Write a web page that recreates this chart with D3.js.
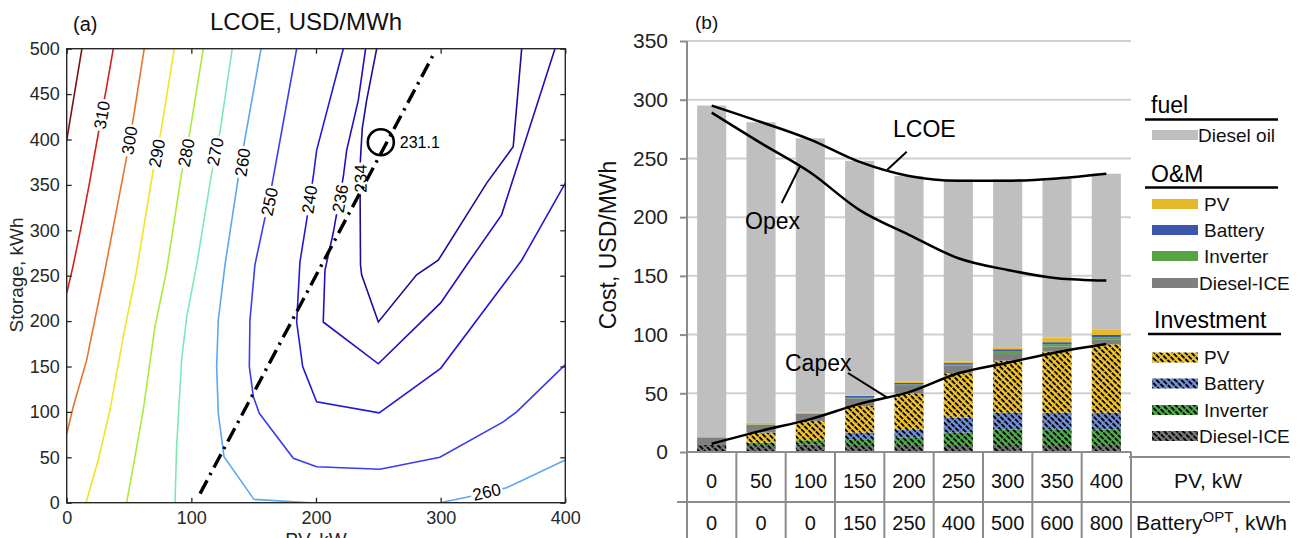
<!DOCTYPE html>
<html>
<head>
<meta charset="utf-8">
<script src="https://cdn.jsdelivr.net/npm/d3@7"></script>
<style>
  body { margin: 0; background: #fff; }
  svg { display: block; font-family: "Liberation Sans", Arial, Helvetica, sans-serif; }
</style>
</head>
<body>
<svg id="chart" width="1304" height="538"></svg>
<script>
// ---------- (a) contour lines, points as [PV kW, storage kWh] ----------
var c320 = [[12.2,500],[0,399]];
var c310 = [[37.4,500],[31,450],[24.5,400],[18,350],[11,300],[5,260],[0,231]];
var c300 = [[62.2,500],[53.4,423],[47.6,377],[30.7,256],[16,157],[5.3,106],[0,76]];
var c290 = [[86.3,500],[75.6,409],[69,363],[56.1,256],[45.4,183],[34.7,102],[25.3,47],[15.5,0]];
var c280 = [[109.6,500],[98.9,409],[92.2,363],[80.2,256],[70.8,194],[61.4,102],[53.4,40],[48.1,0]];
var c270 = [[132.8,500],[123,409],[116.3,363],[104.3,262],[96.3,205],[92.2,157],[88.2,62],[86.9,0]];
var c260 = [[155.9,500],[139,370],[127,262],[121.6,201],[120.3,150],[121.6,98.5],[126.2,50.7],[150.2,3.7],[195.2,0]];
var c260b = [[299.4,0],[320.8,6],[352.9,16.5],[400,47]];
var c250 = [[184.5,500],[164.4,348],[151,262],[147,201],[146.5,150],[149.7,117],[154.5,98.5],[181.8,49],
            [200.5,39.6],[251.3,36.8],[299.4,50],[350.2,89],[361,100],[400,152]];
var c240 = [[221.9,500],[200.5,388],[197.8,359],[192.5,311],[187.1,265],[184.5,199],[189.3,150],[200.5,111],
            [250.7,99],[300,148],[365,267],[400,352]];
var c236 = [[239.8,500],[233.9,443],[224.6,388],[221.9,359],[213.8,297],[207.2,256],[205.8,199],[250,153],
            [300,220],[323.5,267],[348.9,317],[391.7,500]];
var c234 = [[248.7,500],[240.6,443],[237.1,412],[235.6,377],[235.4,333],[235.7,262],[236.6,251],[250,199],
            [280.7,251],[298.1,267],[336.9,352],[358.2,392],[365,500]];

var contourLines = [c320, c310, c300, c290, c280, c270, c260, c260b, c250, c240, c236, c234];
var contourColors = ["#7d1212", "#d91e1e", "#e8742a", "#f2e424", "#a8ec3c", "#7ee8b4", "#5aa8f2", "#5aa8f2",
                     "#3a3cf0", "#2418d8", "#200fc0", "#1c0c9a"];

var labelText = ["310", "300", "290", "280", "270", "260", "250", "240", "236", "234", "260"];
var labelPV = [28.1, 50.2, 72.2, 95.7, 119, 140.9, 162.5, 194.6, 219.2, 235.6, 336.9];
var labelStorage = [427, 399, 385, 385.5, 386.6, 375, 331.5, 334, 335, 357, 12];
var labelLine = [c310, c300, c290, c280, c270, c260, c250, c240, c236, c234, c260b];

var optimalLine = [[107,10],[294,493]];
var optimum = [252, 397];
var optimumValue = "231.1";

// ---------- (b) stacked costs, USD/MWh ----------
var pvKW = ["0","50","100","150","200","250","300","350","400"];
var batteryOpt = ["0","0","0","150","250","400","500","600","800"];

var invDieselICE = [6, 6, 6.5, 6, 6, 6, 6, 6, 6];
var invInverter = [0, 2, 3.5, 4.3, 6.2, 10.5, 13.3, 13.3, 13.3];
var invBattery = [0, 0, 0, 6.2, 6.5, 12.8, 14.2, 14.2, 14.2];
var invPV = [0, 8.5, 16.5, 22.7, 31.2, 37.7, 44.3, 52, 58.2];
var omDieselICE = [6.5, 6.8, 6.2, 6.5, 7.1, 6.5, 5.7, 4.3, 4.3];
var omInverter = [0, 0.3, 0.3, 0.5, 0.5, 0.8, 2, 2, 1.7];
var omBattery = [0, 0, 0, 1.5, 1.3, 1.4, 2, 1.7, 2];
var omPV = [0, 1.2, 0.6, 0.3, 1.3, 1.4, 1.7, 4, 4.3];
var dieselOil = [282.5, 256, 233.5, 200, 175, 155, 143, 135.5, 133];

var lcoe = [295, 281, 266, 247, 235, 231, 231, 233, 237];
var opex = [289, 263, 238, 206, 185, 165, 155, 148, 146];
var capex = [7, 18, 28, 41, 51, 67, 76, 85, 92];

var costTicks = [0, 50, 100, 150, 200, 250, 300, 350];

var svg = d3.select("#chart");
var defs = svg.append("defs");

// ================= panel (a) =================
var xA = d3.scaleLinear().domain([0, 400]).range([66.7, 565.3]);
var yA = d3.scaleLinear().domain([0, 500]).range([502.7, 48.7]);

defs.append("clipPath").attr("id", "clipA")
  .append("rect").attr("x", xA(0)).attr("y", yA(500))
  .attr("width", xA(400) - xA(0)).attr("height", yA(0) - yA(500));

var contourLine = d3.line()
  .x(function(d){ return xA(d[0]); })
  .y(function(d){ return yA(d[1]); });

var gA = svg.append("g").attr("clip-path", "url(#clipA)");

contourLines.forEach(function(pts, i){
  gA.append("path")
    .attr("d", contourLine(pts))
    .attr("fill", "none")
    .attr("stroke", contourColors[i])
    .attr("stroke-width", 1.6);
});

// contour labels, rotated along the local line direction
labelText.forEach(function(t, i){
  var px = xA(labelPV[i]), py = yA(labelStorage[i]);
  var pts = labelLine[i], best = 0, bestD = Infinity;
  for (var k = 0; k < pts.length - 1; k++){
    var mx = (xA(pts[k][0]) + xA(pts[k+1][0])) / 2, my = (yA(pts[k][1]) + yA(pts[k+1][1])) / 2;
    var dd = (mx - px) * (mx - px) + (my - py) * (my - py);
    if (dd < bestD){ bestD = dd; best = k; }
  }
  var dx = xA(pts[best+1][0]) - xA(pts[best][0]);
  var dy = yA(pts[best+1][1]) - yA(pts[best][1]);
  var ang = Math.atan2(dy, dx) * 180 / Math.PI;
  if (ang >= 90) ang -= 180;
  if (ang < -90) ang += 180;
  var g = gA.append("g").attr("transform", "translate(" + px + "," + py + ") rotate(" + ang + ")");
  g.append("rect").attr("x", -16).attr("y", -9).attr("width", 32).attr("height", 18).attr("fill", "#fff");
  g.append("text").attr("text-anchor", "middle").attr("dy", "0.36em")
    .style("font-size", "17px").attr("fill", "#000").text(t);
});

gA.append("path")
  .attr("d", contourLine(optimalLine))
  .attr("fill", "none")
  .attr("stroke", "#000")
  .attr("stroke-width", 3.4)
  .attr("stroke-dasharray", "15,6,2.5,6");

gA.append("circle")
  .attr("cx", xA(optimum[0])).attr("cy", yA(optimum[1])).attr("r", 13)
  .attr("fill", "none").attr("stroke", "#000").attr("stroke-width", 2.6);

svg.append("text")
  .attr("x", xA(optimum[0]) + 19).attr("y", yA(optimum[1]) + 6)
  .style("font-size", "16px").text(optimumValue);

// axes, MATLAB style ticks pointing inward
var axL = svg.append("g").attr("transform", "translate(" + xA(0) + ",0)")
  .call(d3.axisLeft(yA).tickValues(d3.range(0, 501, 50)).tickSizeInner(-5).tickSizeOuter(0).tickPadding(7));
var axB = svg.append("g").attr("transform", "translate(0," + yA(0) + ")")
  .call(d3.axisBottom(xA).tickValues([0, 100, 200, 300, 400]).tickSizeInner(-5).tickSizeOuter(0).tickPadding(9));
var axR = svg.append("g").attr("transform", "translate(" + xA(400) + ",0)")
  .call(d3.axisRight(yA).tickValues(d3.range(0, 501, 50)).tickSizeInner(-5).tickSizeOuter(0).tickFormat(""));
var axT = svg.append("g").attr("transform", "translate(0," + yA(500) + ")")
  .call(d3.axisTop(xA).tickValues([0, 100, 200, 300, 400]).tickSizeInner(-5).tickSizeOuter(0).tickFormat(""));
[axL, axB, axR, axT].forEach(function(a){
  a.select(".domain").remove();
  a.selectAll("line").attr("stroke", "#262626").attr("stroke-width", 1.3);
  a.selectAll("text").attr("fill", "#262626").style("font-size", "18px").style("font-family", null);
});
svg.append("rect")
  .attr("x", xA(0)).attr("y", yA(500))
  .attr("width", xA(400) - xA(0)).attr("height", yA(0) - yA(500))
  .attr("fill", "none").attr("stroke", "#262626").attr("stroke-width", 1.4);

svg.append("text").attr("x", 306).attr("y", 30).attr("text-anchor", "middle")
  .style("font-size", "24px").attr("fill", "#111").text("LCOE, USD/MWh");
svg.append("text").attr("x", 73).attr("y", 31).style("font-size", "20px").attr("fill", "#111").text("(a)");
svg.append("text").attr("x", 316).attr("y", 546).attr("text-anchor", "middle")
  .style("font-size", "19px").attr("fill", "#262626").text("PV, kW");
svg.append("text").attr("transform", "translate(23,275) rotate(-90)").attr("text-anchor", "middle")
  .style("font-size", "19px").attr("fill", "#262626").text("Storage, kWh");

// ================= panel (b) =================
var xB = d3.scaleBand().domain(d3.range(pvKW.length)).range([687, 1131])
  .paddingInner(0.41).paddingOuter(0.205);
var yB = d3.scaleLinear().domain([0, 350]).range([452, 41]);

var colors = {
  dieselOil: "#bfbfbf",
  omPV: "#e6b82a", omBattery: "#3b57ad", omInverter: "#56a346", omDieselICE: "#7f7f7f",
  invPV: "#f2c531", invBattery: "#7391d8", invInverter: "#4fae4a", invDieselICE: "#7a7a7a"
};

// dashed downward-diagonal hatch
function hatch(id, color){
  var p = defs.append("pattern").attr("id", id).attr("patternUnits", "userSpaceOnUse")
    .attr("width", 6).attr("height", 4.4).attr("patternTransform", "rotate(45)");
  p.append("rect").attr("width", 6).attr("height", 4.4).attr("fill", color);
  p.append("rect").attr("width", 4.8).attr("height", 1.9).attr("fill", "#000");
}
hatch("hPV", colors.invPV);
hatch("hBattery", colors.invBattery);
hatch("hInverter", colors.invInverter);
hatch("hICE", colors.invDieselICE);

var keys = ["invDieselICE", "invInverter", "invBattery", "invPV",
            "omDieselICE", "omInverter", "omBattery", "omPV", "dieselOil"];
var fills = {
  invDieselICE: "url(#hICE)", invInverter: "url(#hInverter)", invBattery: "url(#hBattery)", invPV: "url(#hPV)",
  omDieselICE: colors.omDieselICE, omInverter: colors.omInverter, omBattery: colors.omBattery,
  omPV: colors.omPV, dieselOil: colors.dieselOil
};
var series = { invDieselICE: invDieselICE, invInverter: invInverter, invBattery: invBattery, invPV: invPV,
  omDieselICE: omDieselICE, omInverter: omInverter, omBattery: omBattery, omPV: omPV, dieselOil: dieselOil };

var rows = pvKW.map(function(d, i){
  var r = { i: i };
  keys.forEach(function(k){ r[k] = series[k][i]; });
  return r;
});

// gridlines
svg.append("g").selectAll("line").data(costTicks.slice(1)).enter().append("line")
  .attr("x1", 687).attr("x2", 1131)
  .attr("y1", function(d){ return yB(d); }).attr("y2", function(d){ return yB(d); })
  .attr("stroke", "#d0d0d0").attr("stroke-width", 2);

var stacked = d3.stack().keys(keys)(rows);
svg.append("g").selectAll("g").data(stacked).enter().append("g")
  .attr("fill", function(s){ return fills[s.key]; })
  .selectAll("rect").data(function(s){ return s; }).enter().append("rect")
  .attr("x", function(d){ return xB(d.data.i); })
  .attr("width", xB.bandwidth())
  .attr("y", function(d){ return yB(d[1]); })
  .attr("height", function(d){ return Math.max(0, yB(d[0]) - yB(d[1])); });

// y axis
var axB2 = svg.append("g").attr("transform", "translate(687,0)")
  .call(d3.axisLeft(yB).tickValues(costTicks).tickSize(7).tickPadding(12));
axB2.select(".domain").remove();
axB2.selectAll("line").attr("stroke", "#8c8c8c").attr("stroke-width", 2);
axB2.selectAll("text").attr("fill", "#222").style("font-size", "21px").style("font-family", null);
svg.append("line").attr("x1", 687).attr("x2", 687).attr("y1", yB(350)).attr("y2", 538)
  .attr("stroke", "#8c8c8c").attr("stroke-width", 2);
svg.append("text").attr("transform", "translate(616,245) rotate(-90)").attr("text-anchor", "middle")
  .style("font-size", "23px").attr("fill", "#111").text("Cost, USD/MWh");
svg.append("text").attr("x", 695).attr("y", 29).style("font-size", "19px").attr("fill", "#111").text("(b)");

// lines
var cx = function(i){ return xB(i) + xB.bandwidth() / 2; };
var costLine = d3.line()
  .x(function(d, i){ return cx(i); })
  .y(function(d){ return yB(d); })
  .curve(d3.curveMonotoneX);
[lcoe, opex, capex].forEach(function(s){
  svg.append("path").attr("d", costLine(s)).attr("fill", "none")
    .attr("stroke", "#000").attr("stroke-width", 2.5);
});

function pointAt(arr, t){
  var i = Math.floor(t), f = t - i;
  return [cx(i) + f * xB.step(), yB(arr[i] + (arr[i + 1] - arr[i]) * f)];
}
function callout(arr, t, from, label, tx, ty){
  var p = pointAt(arr, t);
  svg.append("line").attr("x1", from[0]).attr("y1", from[1]).attr("x2", p[0]).attr("y2", p[1])
    .attr("stroke", "#000").attr("stroke-width", 2);
  svg.append("text").attr("x", tx).attr("y", ty).style("font-size", "23px").attr("fill", "#000").text(label);
}
callout(lcoe, 3.56, [906.7, 151.7], "LCOE", 893, 137);
callout(opex, 1.79, [781.7, 203], "Opex", 745, 229);
callout(capex, 3.55, [848, 373], "Capex", 785, 371);

// table under the chart
var tbl = svg.append("g").attr("stroke", "#8c8c8c").attr("stroke-width", 2);
tbl.append("line").attr("x1", 687).attr("x2", 1131).attr("y1", 452).attr("y2", 452);
tbl.append("line").attr("x1", 1129).attr("x2", 1290).attr("y1", 457).attr("y2", 457);
tbl.append("line").attr("x1", 677).attr("x2", 1290).attr("y1", 502).attr("y2", 502);
d3.range(1, pvKW.length + 1).forEach(function(i){
  var x = xB.range()[0] + i * xB.step();
  tbl.append("line").attr("x1", x).attr("x2", x).attr("y1", 452).attr("y2", 538);
});
svg.append("g").selectAll("text").data(pvKW).enter().append("text")
  .attr("x", function(d, i){ return cx(i); }).attr("y", 488).attr("text-anchor", "middle")
  .style("font-size", "20px").attr("fill", "#111").text(function(d){ return d; });
svg.append("g").selectAll("text").data(batteryOpt).enter().append("text")
  .attr("x", function(d, i){ return cx(i); }).attr("y", 530).attr("text-anchor", "middle")
  .style("font-size", "20px").attr("fill", "#111").text(function(d){ return d; });
svg.append("text").attr("x", 1208).attr("y", 488).attr("text-anchor", "middle")
  .style("font-size", "21px").attr("fill", "#111").text("PV, kW");
var bt = svg.append("text").attr("x", 1136).attr("y", 530).style("font-size", "21px").attr("fill", "#111");
bt.append("tspan").text("Battery");
bt.append("tspan").attr("dy", -8).style("font-size", "15px").text("OPT");
bt.append("tspan").attr("dy", 8).text(", kWh");

// legend
var legendHeads = [["fuel", 113, 119.5, 1145, 1278], ["O&M", 181.5, 187.5, 1145, 1278], ["Investment", 328, 334, 1148, 1281]];
legendHeads.forEach(function(h){
  svg.append("text").attr("x", h[3] + 6).attr("y", h[1]).style("font-size", "23px").attr("fill", "#000").text(h[0]);
  svg.append("line").attr("x1", h[3]).attr("x2", h[4]).attr("y1", h[2]).attr("y2", h[2])
    .attr("stroke", "#000").attr("stroke-width", 2.5);
});
var legendItems = [
  ["dieselOil", "Diesel oil", 130, 1198],
  ["omPV", "PV", 199, 1204], ["omBattery", "Battery", 225, 1204],
  ["omInverter", "Inverter", 251, 1204], ["omDieselICE", "Diesel-ICE", 278, 1199],
  ["invPV", "PV", 352.5, 1204], ["invBattery", "Battery", 378.5, 1204],
  ["invInverter", "Inverter", 405, 1204], ["invDieselICE", "Diesel-ICE", 431, 1199]
];
legendItems.forEach(function(it){
  svg.append("rect").attr("x", 1152).attr("y", it[2]).attr("width", 46).attr("height", 10).attr("fill", fills[it[0]]);
  svg.append("text").attr("x", it[3]).attr("y", it[2] + 11.5).style("font-size", "19px").attr("fill", "#111").text(it[1]);
});
</script>
</body>
</html>
